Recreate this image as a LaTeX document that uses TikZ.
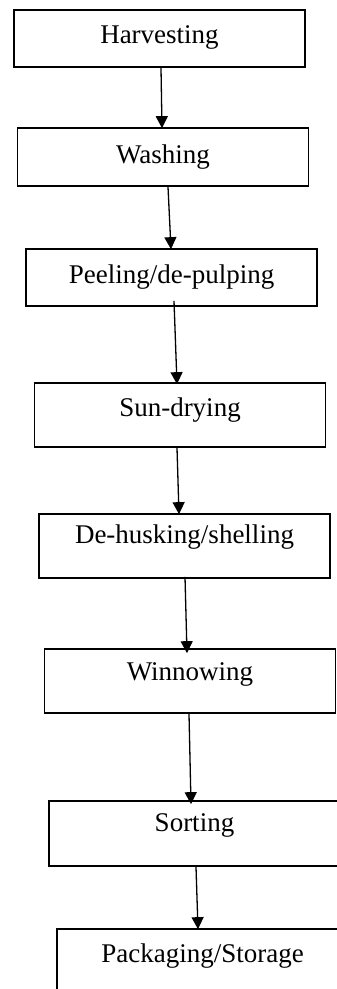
\documentclass[tikz,border=0pt]{standalone}
\usepackage{fontspec}
\setmainfont{Liberation Serif}
\usetikzlibrary{arrows.meta}
\tikzset{
  stepbox/.style 2 args={draw=black, line width=1.7pt, rectangle, anchor=base,
    minimum width=291pt, inner xsep=0pt, inner ysep=0pt,
    text height=#1pt, text depth=#2pt,
    font=\fontsize{27}{30}\selectfont},
  flow/.style={line width=1.3pt, -{Triangle[width=12pt,length=12pt]}}
}
\begin{document}
\begin{tikzpicture}[x=1pt,y=-1pt]
\useasboundingbox (0,0) rectangle (337,989);
\clip (0,0) rectangle (337,989);
\node[stepbox={33}{24}] (n1) at (159.5,43) {Harvesting};
\node[stepbox={35}{23}] (n2) at (163,163) {Washing};
\node[stepbox={34}{23}] (n3) at (171.5,283) {Peeling/de-pulping};
\node[stepbox={33}{31}] (n4) at (180,416) {Sun-drying};
\node[stepbox={29}{35}] (n5) at (184.5,543) {De-husking/shelling};
\node[stepbox={31}{33}] (n6) at (190,680) {Winnowing};
\node[stepbox={30}{35}] (n7) at (194.5,831) {Sorting};
\node[stepbox={33}{40}] (n8) at (202.5,962) {Packaging/Storage};
\draw[flow] ([xshift=1.5pt]n1.south) -- ([xshift=-1pt,yshift=-1pt]n2.north);
\draw[flow] ([xshift=5pt]n2.south) -- ([xshift=-0.5pt,yshift=-1pt]n3.north);
\draw[flow] ([xshift=2.5pt,yshift=6pt]n3.south) -- ([xshift=-3pt,yshift=-2pt]n4.north);
\draw[flow] ([xshift=-3pt]n4.south) -- ([xshift=-5.5pt,yshift=-1pt]n5.north);
\draw[flow] ([xshift=0.5pt,yshift=2pt]n5.south) -- ([xshift=-3pt,yshift=-5pt]n6.north);
\draw[flow] ([xshift=-1pt]n6.south) -- ([xshift=-3.5pt,yshift=-4pt]n7.north);
\draw[flow] ([xshift=1.5pt]n7.south) -- ([xshift=-4.5pt,yshift=-1pt]n8.north);
\end{tikzpicture}
\end{document}
